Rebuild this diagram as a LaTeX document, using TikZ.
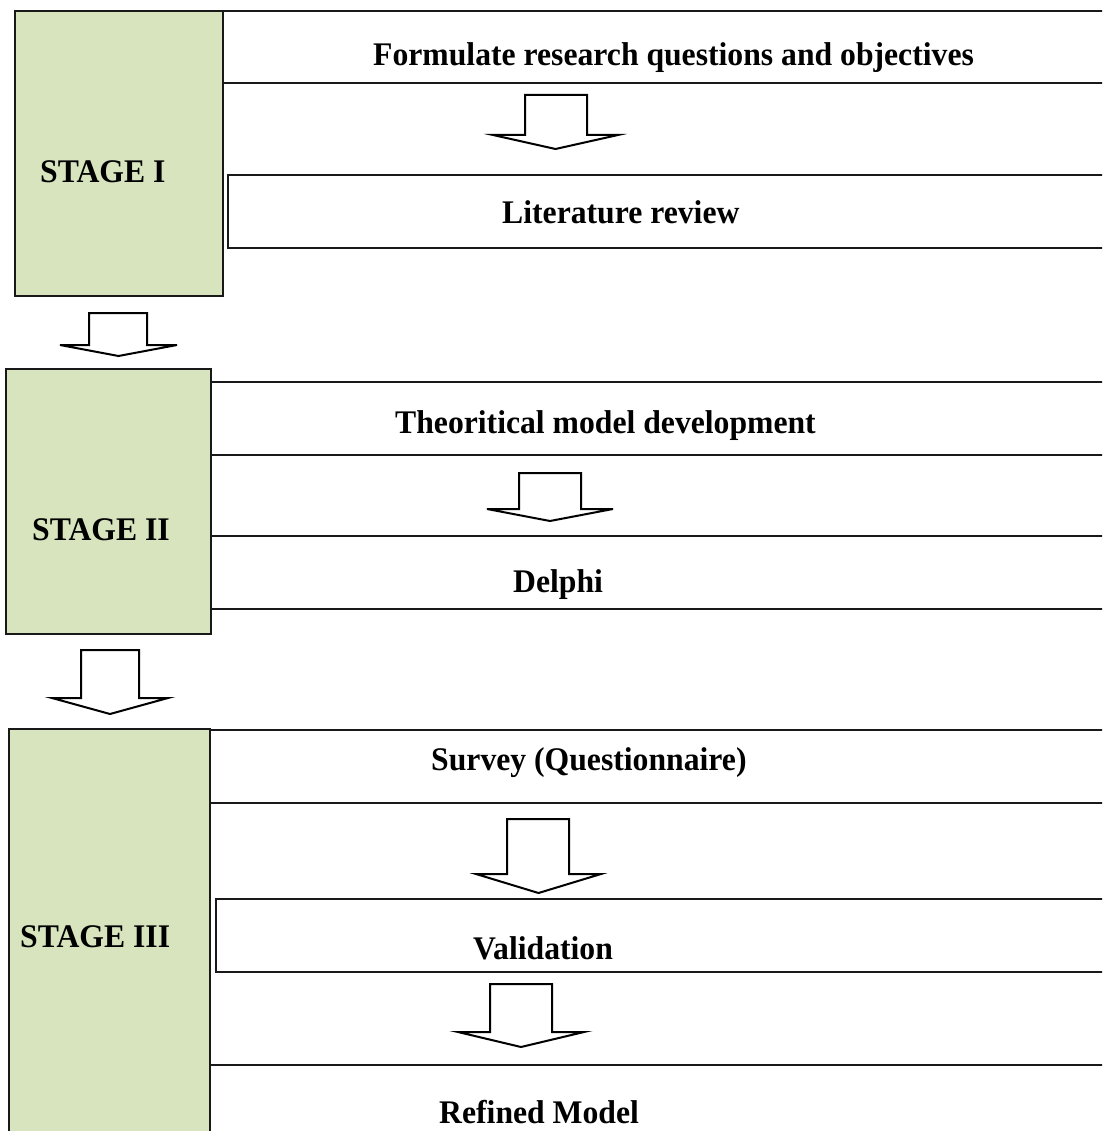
\documentclass[tikz,border=0pt]{standalone}
\usepackage{fontspec}
\setmainfont{Liberation Serif}[FakeStretch=0.96]
\begin{document}
\begin{tikzpicture}[x=1pt,y=-1pt,
  stagebox/.style={draw=black!90, line width=2pt, fill=stagegreen, inner sep=0pt, anchor=north west},
  stepbox/.style={draw=black!90, line width=2pt, fill=white, inner sep=0pt, anchor=north west},
  label/.style={font=\bfseries\fontsize{33}{36}\selectfont, inner sep=0pt, anchor=base west},
  blockarrow/.style={draw=black, line width=2pt, fill=white, line join=miter}]
\definecolor{stagegreen}{HTML}{D7E4BD}
\useasboundingbox (0,0) rectangle (1102,1131);
\clip (0,0) rectangle (1102,1131);

% hollow downward block arrow: shaft left/right, head left/right, top, shoulder, tip
\newcommand\blockdown[7]{%
  \draw[blockarrow] (#1,#5) -- (#2,#5) -- (#2,#6) -- (#4,#6) -- ({(#3+#4)/2},#7)
    -- (#3,#6) -- (#1,#6) -- cycle;}

% ---- Stage I ----
\node[stepbox, minimum width=893pt, minimum height=72pt] (formulate) at (222,10) {};
\node[stepbox, minimum width=888pt, minimum height=73pt] (litreview) at (227,174) {};
\node[stagebox, minimum width=208pt, minimum height=285pt] (stage1) at (14,10) {};
\node[label] (t-stage1) at (40,183) {STAGE I};
\node[label] (t-formulate) at (373,66) {Formulate research questions and objectives};
\node[label] (t-litreview) at (502,224) {Literature review};
\blockdown{525}{587}{493}{618}{95}{135}{149}

% ---- Stage I -> Stage II ----
\blockdown{89}{147}{60}{177}{313}{345}{356}

% ---- Stage II ----
\node[stepbox, minimum width=905pt, minimum height=73pt] (theory) at (210,381) {};
\node[stepbox, minimum width=905pt, minimum height=73pt] (delphi) at (210,535) {};
\node[stagebox, minimum width=205pt, minimum height=265pt] (stage2) at (5,368) {};
\node[label] (t-stage2) at (32,540) {STAGE II};
\node[label] (t-theory) at (395,433) {Theoritical model development};
\node[label] (t-delphi) at (513,592) {Delphi};
\blockdown{519}{581}{487}{613}{473}{509}{521}

% ---- Stage II -> Stage III ----
\blockdown{81}{139}{52}{168}{650}{698}{714}

% ---- Stage III ----
\node[stepbox, minimum width=906pt, minimum height=73pt] (survey) at (209,729) {};
\node[stepbox, minimum width=900pt, minimum height=73pt] (validation) at (215,898) {};
\node[stepbox, minimum width=906pt, minimum height=90pt] (refined) at (209,1064) {};
\node[stagebox, minimum width=201pt, minimum height=420pt] (stage3) at (8,728) {};
\node[label] (t-stage3) at (20,947) {STAGE III};
\node[label] (t-survey) at (431,770) {Survey (Questionnaire)};
\node[label] (t-validation) at (473,959) {Validation};
\node[label] (t-refined) at (439,1123) {Refined Model};
\blockdown{507}{569}{476}{601}{819}{874}{893}
\blockdown{490}{552}{458}{584}{984}{1032}{1047}
\end{tikzpicture}
\end{document}
